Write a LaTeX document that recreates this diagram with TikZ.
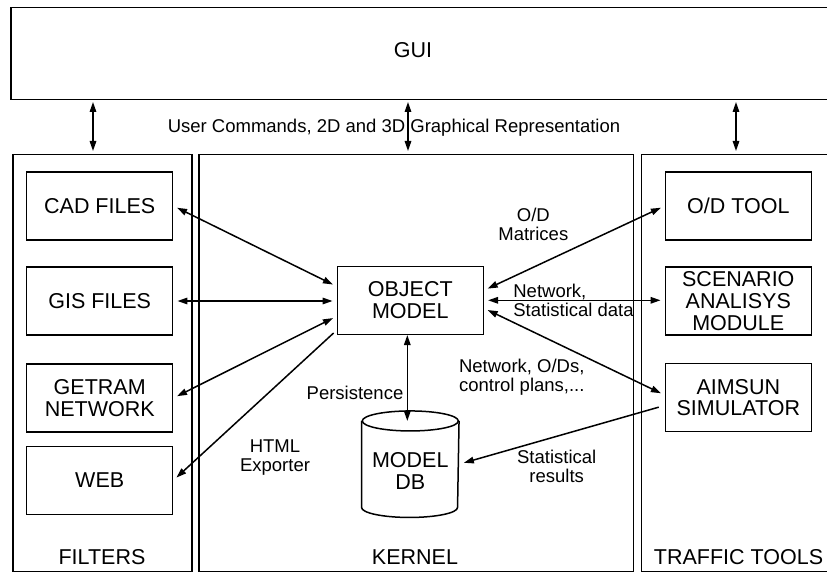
\documentclass[tikz,border=0pt]{standalone}
\usepackage{fontspec}
\setmainfont{Liberation Sans}
\usepackage{tikz}
\usetikzlibrary{arrows.meta}

\tikzset{
	box/.style={draw,minimum width=146bp,minimum height=68bp,inner sep=1bp,align=center,font=\fontsize{21.5bp}{21.7bp}\selectfont},
	area/.style={draw,anchor=north west,inner sep=0pt},
	title/.style={font=\fontsize{21.5bp}{21.7bp}\selectfont,align=center},
	lbl/.style={font=\fontsize{18.5bp}{19bp}\selectfont,align=center},
	conn/.style={shorten <=4bp,shorten >=4bp},
}

\begin{document}
\begin{tikzpicture}[x=1bp,y=-1bp,line width=1.5bp,>={Triangle[length=10bp,width=6.5bp]}]
	\clip (0,0) rectangle (827,572);
	% frames
	\node [area,minimum width=860bp,minimum height=92bp] (gui) at (10,7) {};
	\node [area,minimum width=179bp,minimum height=416.5bp] (filt) at (12,154) {};
	\node [area,minimum width=434.7bp,minimum height=416.5bp] (kern) at (198,154) {};
	\node [area,minimum width=220bp,minimum height=416.5bp] (tools) at (640.7,154) {};
	\node [title] (guitxt) at (413,50) {GUI};
	\node [title] (filttxt) at (102,556.7) {FILTERS};
	\node [title] (kerntxt) at (415,556.7) {KERNEL};
	\node [title] (toolstxt) at (738.5,556.7) {TRAFFIC TOOLS};

	% GUI links
	\coordinate (ga) at (93,99);
	\coordinate (gb) at (408,99);
	\coordinate (gc) at (736,99);
	\draw [<->,shorten <=3bp,shorten >=3bp] (ga) -- (ga |- filt.north);
	\draw [<->,shorten <=3bp,shorten >=3bp] (gb) -- (gb |- kern.north);
	\draw [<->,shorten <=3bp,shorten >=3bp] (gc) -- (gc |- tools.north);
	\node [lbl] (cmds) at (394,128) {User Commands, 2D and 3D Graphical Representation};

	% boxes
	\node [box] (cad) at (99.7,206) {CAD FILES};
	\node [box] (gis) at (99.7,301) {GIS FILES};
	\node [box] (getram) at (99.7,398) {GETRAM\\NETWORK};
	\node [box] (web) at (99.7,480.3) {WEB};
	\node [box] (om) at (410.3,300.3) {OBJECT\\MODEL};
	\node [box] (od) at (738.3,206) {O/D TOOL};
	\node [box] (scen) at (738.3,301) {SCENARIO\\ANALISYS\\MODULE};
	\node [box] (aimsun) at (738.3,397.5) {AIMSUN\\SIMULATOR};

	% database
	\node [minimum width=96bp,minimum height=105bp,inner sep=0pt] (db) at (410.3,464.2) {};
	\draw ([yshift=-10bp]db.north west) -- ([yshift=10bp]db.south west)
		arc [start angle=180,end angle=360,x radius=48bp,y radius=10bp] -- ([yshift=-10bp]db.north east);
	\draw ([yshift=-10bp]db.north) ellipse [x radius=48bp,y radius=10bp];
	\node [title] (dbtxt) at (410.3,471) {MODEL\\DB};

	% links
	\draw [<->,conn] (cad.east) -- ([yshift=14bp]om.west);
	\draw [<->,conn] (gis.east) -- (gis.east -| om.west);
	\draw [<->,conn] (getram.east) -- ([yshift=-16bp]om.west);
	\draw [->,conn] ([yshift=-30bp]om.west) -- (web.east);
	\draw [<->,conn] ([yshift=10bp]om.east) -- (od.west);
	\draw [<->,conn] (om.east) -- (om.east -| scen.west);
	\draw [<->,conn] ([yshift=-8bp]om.east) -- ([yshift=2.5bp]aimsun.west);
	\draw [->,shorten <=6bp,shorten >=5bp] ([yshift=-8bp]aimsun.west) -- (db.east);
	\draw [<->] ([xshift=-3bp]om.south) -- ([xshift=-3bp,yshift=-10bp]db.north);

	% labels
	\node [lbl] (odlbl) at (533.3,224) {O/D\\Matrices};
	\node [lbl,align=left,anchor=west] (netlbl) at (509.3,300) {Network,\\Statistical data};
	\node [lbl,align=left,anchor=west] (planlbl) at (455,377) {Network, O/Ds,\\control plans,...};
	\node [lbl] (reslbl) at (556.7,466) {Statistical\\results};
	\node [lbl] (perslbl) at (355,392.7) {Persistence};
	\node [lbl] (htmllbl) at (275,457.5) {HTML\\Exporter};
\end{tikzpicture}
\end{document}
